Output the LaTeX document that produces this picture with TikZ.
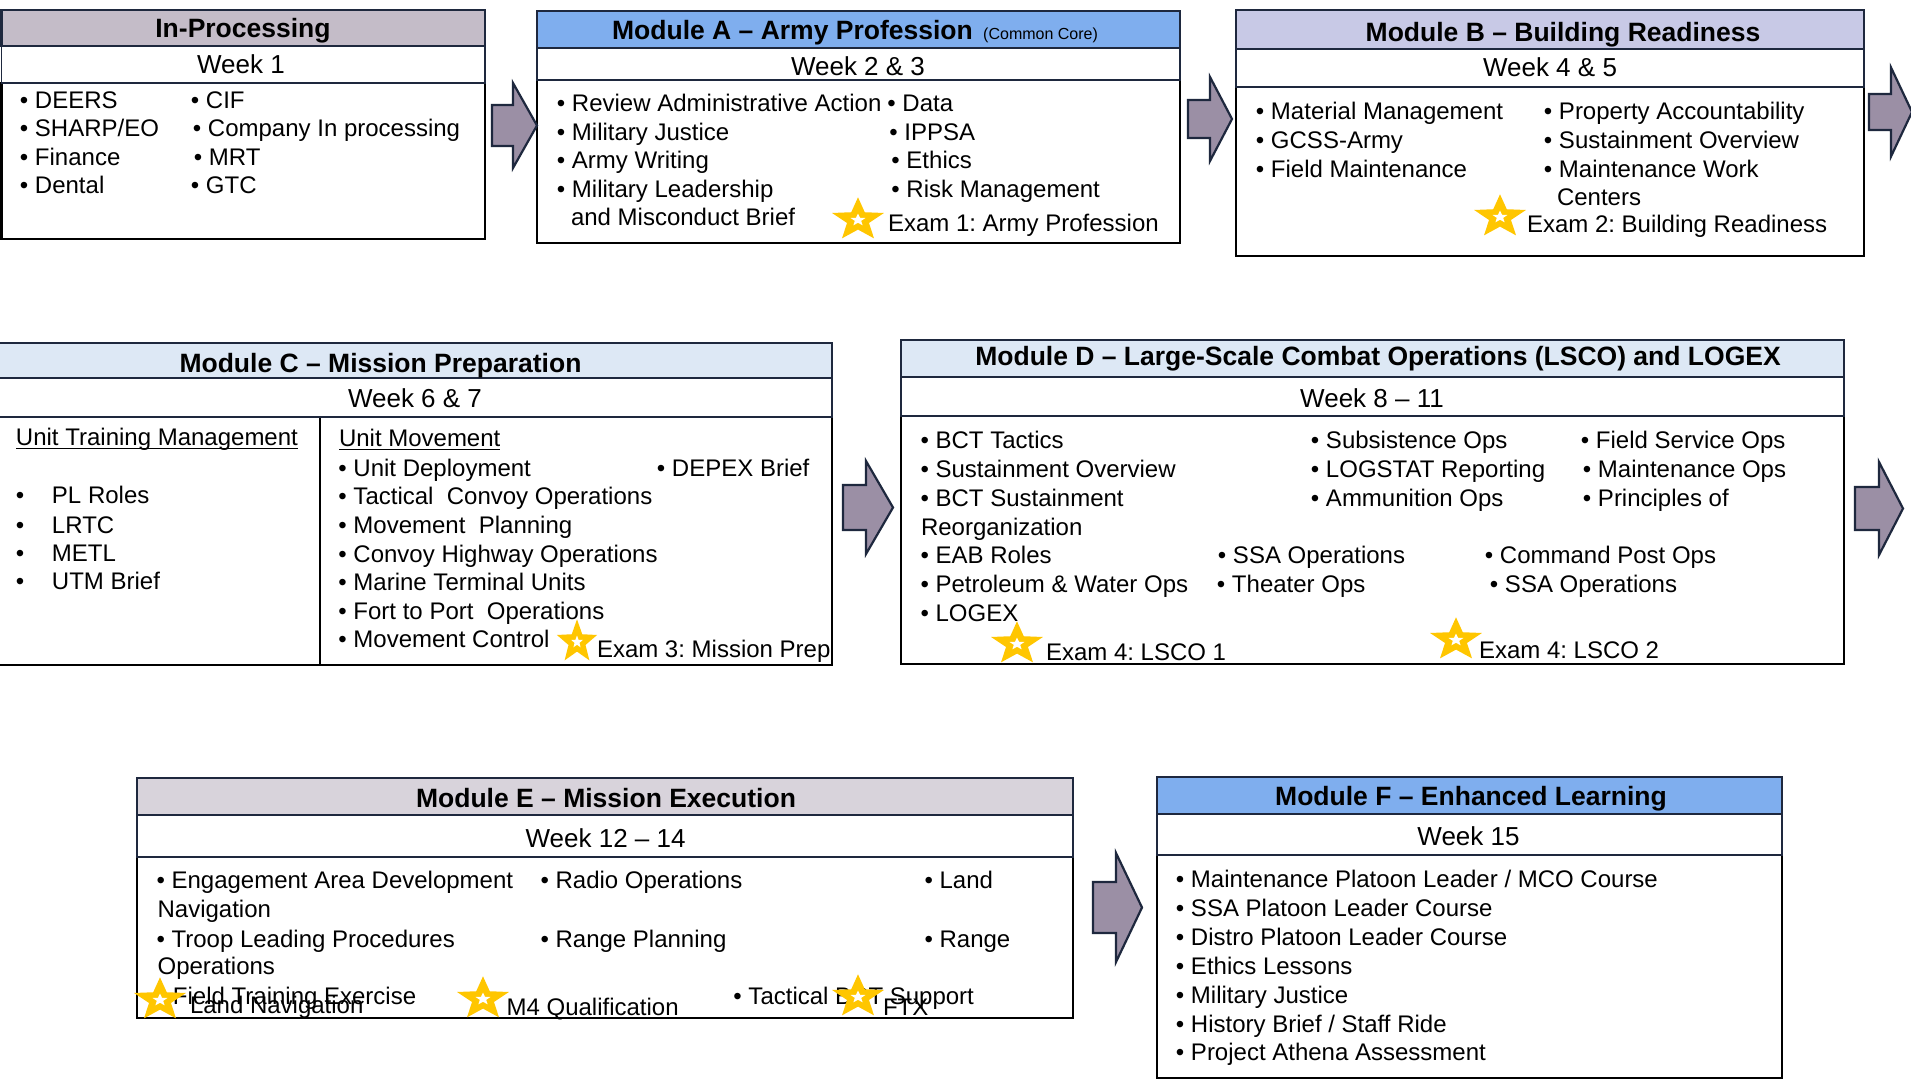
\documentclass[tikz,border=0pt]{standalone}
\usepackage{fontspec}
\setmainfont{Liberation Sans}
\frenchspacing
\definecolor{navy}{RGB}{30,40,62}
\definecolor{arrowfill}{RGB}{155,143,165}
\definecolor{stargold}{RGB}{255,198,0}
\definecolor{ipfill}{RGB}{196,188,200}
\definecolor{afill}{RGB}{127,174,238}
\definecolor{bfill}{RGB}{200,201,230}
\definecolor{cdfill}{RGB}{221,232,245}
\definecolor{efill}{RGB}{216,211,219}
\tikzset{
  txt/.style={anchor=base west, inner sep=0pt, outer sep=0pt, font=\fontsize{24}{29}\selectfont\frenchspacing},
  ttl/.style={anchor=base, inner sep=0pt, outer sep=0pt, font=\fontsize{26.5}{30}\selectfont\bfseries},
  wk/.style={anchor=base, inner sep=0pt, outer sep=0pt, font=\fontsize{26}{30}\selectfont},
  titlebar/.style={draw=navy, line width=2.5pt},
  weekbar/.style={draw=navy, line width=1.8pt, fill=white},
  bodybox/.style={draw=black, line width=2.5pt, fill=white},
  blockarrow/.style={fill=arrowfill, draw=navy, line width=2.2pt, line join=miter},
  uline/.style={line width=1.3pt},
}
\newcommand\bul{\makebox[0pt][r]{•\ }}
\newcommand\bulw{\makebox[0pt][r]{•\hspace{27.8pt}}}
\newcommand\itm[4]{\node[txt] (#1) at (#2,#3) {\bul #4};}
\newcommand\itw[4]{\node[txt] (#1) at (#2,#3) {\bulw #4};}
\newcommand\ptx[4]{\node[txt] (#1) at (#2,#3) {#4};}
\newcommand\examstar[3]{%
  \begin{scope}[shift={(#1,#2+2)}]
  \begin{scope}[x=#3pt,y=1pt]
    \fill[stargold] (90:22.7) -- (126:9.6) -- (162:22.7) -- (198:9.6) -- (234:22.7) -- (270:9.6) -- (306:22.7) -- (342:9.6) -- (18:22.7) -- (54:9.6) -- cycle;
    \fill[white] (90:6.5) -- (126:2.8) -- (162:6.5) -- (198:2.8) -- (234:6.5) -- (270:2.8) -- (306:6.5) -- (342:2.8) -- (18:6.5) -- (54:2.8) -- cycle;
  \end{scope}
  \end{scope}}
\newcommand\barrow[6]{%
  \draw[blockarrow] (#1,#4-#5) -- (#2,#4-#5) -- (#2,#4-#6) -- (#3,#4) -- (#2,#4+#6) -- (#2,#4+#5) -- (#1,#4+#5) -- cycle;}
\begin{document}
\begin{tikzpicture}[x=1pt,y=-1pt]
\useasboundingbox (0,0) rectangle (1911,1081);
\clip (0,0) rectangle (1911,1081);
\fill[white] (0,0) rectangle (1911,1081);

% ---------- In-Processing ----------
\draw[bodybox] (1.5,83) rectangle (485,239);
\draw[weekbar] (1.5,46) rectangle (485,83);
\draw[titlebar, fill=ipfill] (1.5,10) rectangle (485,46);
\node[ttl] (ipT) at (243,37.5) {In-Processing};
\node[wk] (ipW) at (241,74) {Week 1};
\itm{ip1}{35}{108}{DEERS}
\itm{ip2}{35}{136.5}{SHARP/EO}
\itm{ip3}{35}{165}{Finance}
\itm{ip4}{35}{193.5}{Dental}
\itm{ip5}{206}{108}{CIF}
\itm{ip6}{208}{136.5}{Company In processing}
\itm{ip7}{209}{165}{MRT}
\itm{ip8}{206}{193.5}{GTC}

% ---------- Module A ----------
\draw[bodybox] (537,80) rectangle (1180,243);
\draw[weekbar] (537,48) rectangle (1180,80);
\draw[titlebar, fill=afill] (537,11) rectangle (1180,48);
\node[ttl] (aT) at (855,40) {Module A – Army Profession\hspace{3pt} {\mdseries\fontsize{16}{18}\selectfont(Common Core)}};
\node[wk] (aW) at (858,76) {Week 2 \& 3};
\itm{a1}{572}{111}{Review Administrative Action}
\itm{a2}{572}{140}{Military Justice}
\itm{a3}{572}{168.5}{Army Writing}
\itm{a4}{572}{197}{Military Leadership}
\ptx{a5}{571}{225.5}{and Misconduct Brief}
\itm{a6}{902.5}{111}{Data}
\itm{a7}{904.5}{140}{IPPSA}
\itm{a8}{906.5}{168.5}{Ethics}
\itm{a9}{906.5}{197}{Risk Management}
\ptx{a10}{888}{231}{Exam 1: Army Profession}
\examstar{858}{218}{1.2}

% ---------- Module B ----------
\draw[bodybox] (1236,87) rectangle (1864,256);
\draw[weekbar] (1236,49) rectangle (1864,87);
\draw[titlebar, fill=bfill] (1236,10) rectangle (1864,49);
\node[ttl] (bT) at (1563,41.5) {Module B – Building Readiness};
\node[wk] (bW) at (1550,77) {Week 4 \& 5};
\itm{b1}{1271}{119}{Material Management}
\itm{b2}{1271}{148}{GCSS-Army}
\itm{b3}{1271}{177}{Field Maintenance}
\itm{b4}{1559}{119}{Property Accountability}
\itm{b5}{1559}{148}{Sustainment Overview}
\itm{b6}{1559}{177}{Maintenance Work}
\ptx{b7}{1557}{205.5}{Centers}
\ptx{b8}{1527}{232}{Exam 2: Building Readiness}
\examstar{1500}{215}{1.2}

% ---------- Module C ----------
\draw[bodybox] (-5,417) rectangle (320,665);
\draw[bodybox] (320,417) rectangle (832,665);
\draw[weekbar] (-5,378) rectangle (832,417);
\draw[titlebar, fill=cdfill] (-5,343) rectangle (832,378);
\node[ttl] (cT) at (380.5,372) {Module C – Mission Preparation};
\node[wk] (cW) at (415,407) {Week 6 \& 7};
\ptx{c1}{16}{445}{Unit Training Management}
\draw[uline] ([yshift=-3.5pt]c1.base west) -- ([yshift=-3.5pt]c1.base east);
\itw{c2}{52}{503}{PL Roles}
\itw{c3}{52}{533}{LRTC}
\itw{c4}{52}{561}{METL}
\itw{c5}{52}{589}{UTM Brief}
\ptx{c6}{339}{446}{Unit Movement}
\draw[uline] ([yshift=-3.5pt]c6.base west) -- ([yshift=-3.5pt]c6.base east);
\itm{c7}{353.5}{476}{Unit Deployment}
\itm{c8}{353.5}{504}{Tactical\ \ Convoy Operations}
\itm{c9}{353.5}{533}{Movement\ \ Planning}
\itm{c10}{353.5}{562}{Convoy Highway Operations}
\itm{c11}{353.5}{590}{Marine Terminal Units}
\itm{c12}{353.5}{619}{Fort to Port\ \ Operations}
\itm{c13}{353.5}{647}{Movement Control}
\itm{c14}{672}{476}{DEPEX Brief}
\ptx{c15}{597}{657}{Exam 3: Mission Prep}
\examstar{577}{640}{0.93}

% ---------- Module D ----------
\draw[bodybox] (901,416) rectangle (1844,664);
\draw[weekbar] (901,377) rectangle (1844,416);
\draw[titlebar, fill=cdfill] (901,340) rectangle (1844,377);
\node[ttl] (dT) at (1378,365.5) {Module D – Large-Scale Combat Operations (LSCO) and LOGEX};
\node[wk] (dW) at (1372,407) {Week 8 – 11};
\itm{d1}{935.6}{448}{BCT Tactics}
\itm{d2}{935.6}{477}{Sustainment Overview}
\itm{d3}{935.6}{506}{BCT Sustainment}
\ptx{d4}{921}{535}{Reorganization}
\itm{d5}{935.6}{563}{EAB Roles}
\itm{d6}{935.6}{592}{Petroleum \& Water Ops}
\itm{d7}{935.6}{621}{LOGEX}
\itm{d8}{1326}{448}{Subsistence Ops}
\itm{d9}{1326}{477}{LOGSTAT Reporting}
\itm{d10}{1326}{506}{Ammunition Ops}
\itm{d11}{1596}{448}{Field Service Ops}
\itm{d12}{1598}{477}{Maintenance Ops}
\itm{d13}{1598}{506}{Principles of}
\itm{d14}{1233}{563}{SSA Operations}
\itm{d15}{1232}{592}{Theater Ops}
\itm{d16}{1500}{563}{Command Post Ops}
\itm{d17}{1505}{592}{SSA Operations}
\ptx{d18}{1046}{660}{Exam 4: LSCO 1}
\ptx{d19}{1479}{658}{Exam 4: LSCO 2}
\examstar{1017}{642}{1.2}
\examstar{1456}{638}{1.2}

% ---------- Module E ----------
\draw[bodybox] (137,857) rectangle (1073,1018);
\draw[weekbar] (137,815) rectangle (1073,857);
\draw[titlebar, fill=efill] (137,778) rectangle (1073,815);
\node[ttl] (eT) at (606,807) {Module E – Mission Execution};
\node[wk] (eW) at (605.6,847) {Week 12 – 14};
\itm{e1}{171.6}{888}{Engagement Area Development}
\ptx{e2}{157.6}{917}{Navigation}
\itm{e3}{171.6}{947}{Troop Leading Procedures}
\ptx{e4}{157.6}{974}{Operations}
\itm{e5}{173}{1004}{Field Training Exercise}
\ptx{e6}{190}{1013}{Land Navigation}
\itm{e7}{555.6}{888}{Radio Operations}
\itm{e8}{555.6}{947}{Range Planning}
\itm{e9}{939.6}{888}{Land}
\itm{e10}{939.6}{947}{Range}
\ptx{e11}{506.6}{1015}{M4 Qualification}
\itm{e12}{748.5}{1004}{Tactical BCT Support}
\ptx{e13}{883}{1015}{FTX}
\examstar{160}{998}{1.2}
\examstar{483}{997}{1.2}
\examstar{858}{995}{1.2}

% ---------- Module F ----------
\draw[bodybox] (1157,855) rectangle (1782,1078);
\draw[weekbar] (1157,814) rectangle (1782,855);
\draw[titlebar, fill=afill] (1157,777) rectangle (1782,814);
\node[ttl] (fT) at (1471,805) {Module F – Enhanced Learning};
\node[wk] (fW) at (1468.5,845) {Week 15};
\itm{f1}{1191}{887}{Maintenance Platoon Leader / MCO Course}
\itm{f2}{1191}{916}{SSA Platoon Leader Course}
\itm{f3}{1191}{945}{Distro Platoon Leader Course}
\itm{f4}{1191}{974}{Ethics Lessons}
\itm{f5}{1191}{1003}{Military Justice}
\itm{f6}{1191}{1032}{History Brief / Staff Ride}
\itm{f7}{1191}{1060}{Project Athena Assessment}

% ---------- block arrows ----------
\barrow{492}{513}{537}{125.5}{20.5}{42.5}
\barrow{1188}{1210}{1232}{119}{19}{42}
\barrow{1869}{1891}{1912}{112}{18}{44.5}
\barrow{843}{866}{893}{507.5}{22.5}{46.5}
\barrow{1855}{1879}{1903}{508.5}{21.5}{46.5}
\barrow{1093}{1116}{1142}{907.5}{25.5}{54.5}
\end{tikzpicture}
\end{document}
